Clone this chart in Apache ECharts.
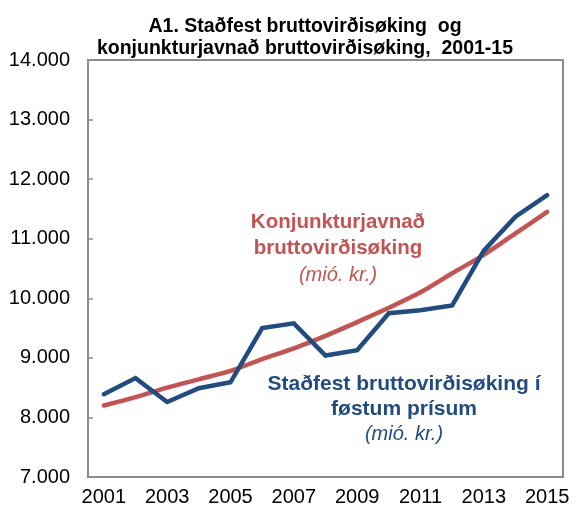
<!DOCTYPE html>
<html>
<head>
<meta charset="utf-8">
<script src="https://cdn.jsdelivr.net/npm/echarts@6/dist/echarts.min.js"></script>
<style>
  html, body { margin: 0; padding: 0; background: #fff; }
  #chart { width: 580px; height: 513px; }
</style>
</head>
<body>
<div id="chart"></div>
<script>
const years = ['2001', '2002', '2003', '2004', '2005', '2006', '2007', '2008',
  '2009', '2010', '2011', '2012', '2013', '2014', '2015']
// Staðfest bruttovirðisøking í føstum prísum (mió. kr.)
const actual = [8390, 8660, 8260, 8490, 8590, 9500, 9580, 9040,
  9130, 9750, 9800, 9880, 10800, 11370, 11730]
// Konjunkturjavnað bruttovirðisøking (mió. kr.)
const adjusted = [8200, 8340, 8500, 8640, 8780, 8980, 9160, 9370,
  9600, 9840, 10100, 10420, 10730, 11090, 11450]
const yTicks = [7000, 8000, 9000, 10000, 11000, 12000, 13000, 14000]

const blue = '#214C82'
const red = '#C55351'
const font = 'Liberation Sans, Arial, sans-serif'

let mychart = echarts.init(document.getElementById('chart'))
mychart.setOption({
  animation: false,
  title: {
    text: 'A1. Staðfest bruttovirðisøking  og\nkonjunkturjavnað bruttovirðisøking,  2001-15',
    left: 300,
    top: 11,
    textAlign: 'center',
    textStyle: {
      fontFamily: font,
      fontSize: 19.5,
      fontWeight: 'bold',
      color: '#000',
      lineHeight: 22,
    },
  },
  grid: {
    left: 88,
    right: 17,
    top: 60,
    bottom: 36,
    show: true,
    borderColor: '#8c8c8c',
    borderWidth: 2,
  },
  xAxis: {
    type: 'category',
    data: years,
    boundaryGap: true,
    axisLine: { lineStyle: { color: '#8c8c8c', width: 2 } },
    axisTick: { inside: true, length: 5, lineStyle: { color: '#8c8c8c', width: 1.5 } },
    axisLabel: {
      interval: 1,
      color: '#000',
      fontFamily: font,
      fontSize: 20,
      margin: 10,
    },
    splitLine: { show: false },
  },
  yAxis: {
    type: 'value',
    min: yTicks[0],
    max: yTicks[yTicks.length - 1],
    interval: 1000,
    axisLine: { show: true, lineStyle: { color: '#8c8c8c', width: 2 } },
    axisTick: { show: true, inside: true, length: 5, lineStyle: { color: '#8c8c8c', width: 1.5 } },
    axisLabel: {
      color: '#000',
      fontFamily: font,
      fontSize: 20,
      margin: 18,
      formatter: v => String(v).replace(/\B(?=(\d{3})+(?!\d))/g, '.'),
    },
    splitLine: { show: false },
  },
  series: [
    {
      name: 'Konjunkturjavnað bruttovirðisøking',
      type: 'line',
      data: adjusted,
      smooth: 0.3,
      symbol: 'none',
      lineStyle: { color: red, width: 4.5, cap: 'round' },
      z: 2,
    },
    {
      name: 'Staðfest bruttovirðisøking í føstum prísum',
      type: 'line',
      data: actual,
      symbol: 'none',
      lineStyle: { color: blue, width: 4.5, cap: 'round', join: 'miter' },
      z: 3,
    },
  ],
  graphic: [
    {
      type: 'text',
      x: 338,
      y: 209,
      style: {
        text: '{b|Konjunkturjavnað}\n{b|bruttovirðisøking}\n{i|(mió. kr.)}',
        align: 'center',
        fill: red,
        rich: {
          b: { fontFamily: font, fontSize: 20.5, fontWeight: 'bold', lineHeight: 26.5, color: red, align: 'center' },
          i: { fontFamily: font, fontSize: 20, fontStyle: 'italic', lineHeight: 26.5, color: red, align: 'center' },
        },
      },
    },
    {
      type: 'text',
      x: 404,
      y: 372,
      style: {
        text: '{b|Staðfest bruttovirðisøking í}\n{b|føstum prísum}\n{i|(mió. kr.)}',
        align: 'center',
        fill: blue,
        rich: {
          b: { fontFamily: font, fontSize: 21, fontWeight: 'bold', lineHeight: 25, color: blue, align: 'center' },
          i: { fontFamily: font, fontSize: 20, fontStyle: 'italic', lineHeight: 25, color: blue, align: 'center' },
        },
      },
    },
  ],
})
</script>
</body>
</html>
